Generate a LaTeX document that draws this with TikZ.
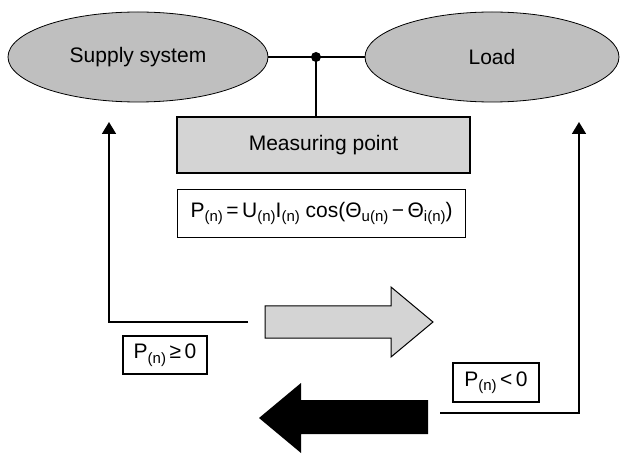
\documentclass[tikz,border=0pt]{standalone}
\usepackage{fontspec}
\setmainfont{Liberation Sans}
\usetikzlibrary{shapes.geometric,arrows.meta}
\newcommand{\idx}[1]{\raisebox{-4.5pt}{\fontsize{15}{17}\selectfont #1}}
\tikzset{
  blob/.style={ellipse, draw, fill=black!25, line width=0.8pt,
    minimum width=260pt, minimum height=90pt},
  panel/.style={rectangle, draw, line width=1.2pt},
  wire/.style={line width=1.8pt},
  flow/.style={wire, -{Triangle[length=12pt,width=14pt]}},
}
\begin{document}
\begin{tikzpicture}[x=1pt, y=-1pt, font=\fontsize{21}{25}\selectfont]
  \useasboundingbox (0,0) rectangle (621,454);
  \node[blob] (supply) at (138,57) {Supply system};
  \node[blob, minimum width=254pt] (load) at (492,57) {Load};
  \coordinate (tap) at (316,57);
  \draw[wire] (supply.east) -- (load.west);
  \fill (tap) circle[radius=5pt];
  \node[panel, fill=black!17, minimum width=293pt, minimum height=56pt]
    (meter) at (323.5,145) {Measuring point};
  \draw[wire] (tap) -- (tap |- meter.north);
  \node[panel, anchor=north west, minimum height=48pt, minimum width=288pt]
    (law) at (177,189)
    {P\idx{(n)}\,=\,U\idx{(n)}I\idx{(n)}\ cos(Θ\idx{u(n)}\,−\,Θ\idx{i(n)})};
  % power flow from the supply side
  \coordinate (endL) at (248,322);
  \coordinate (upL) at (109,122);
  \draw[flow] (endL) -| (upL);
  \draw[line width=1pt, fill=black!17] (265,306) -- (391,306) -- (391,287)
    -- (433,322) -- (391,357) -- (391,338) -- (265,338) -- cycle;
  \node[panel, minimum width=84pt, minimum height=38pt] (pos) at (165,355)
    {P\idx{(n)}\,≥\,0};
  % power flow back from the load side
  \coordinate (endR) at (440,413);
  \coordinate (upR) at (579,122);
  \draw[flow] (endR) -| (upR);
  \fill (428,400) -- (301,400) -- (301,383) -- (259,418) -- (301,453)
    -- (301,434) -- (428,434) -- cycle;
  \node[panel, minimum width=86pt, minimum height=39pt] (neg) at (496,382.5)
    {P\idx{(n)}\,<\,0};
\end{tikzpicture}
\end{document}
